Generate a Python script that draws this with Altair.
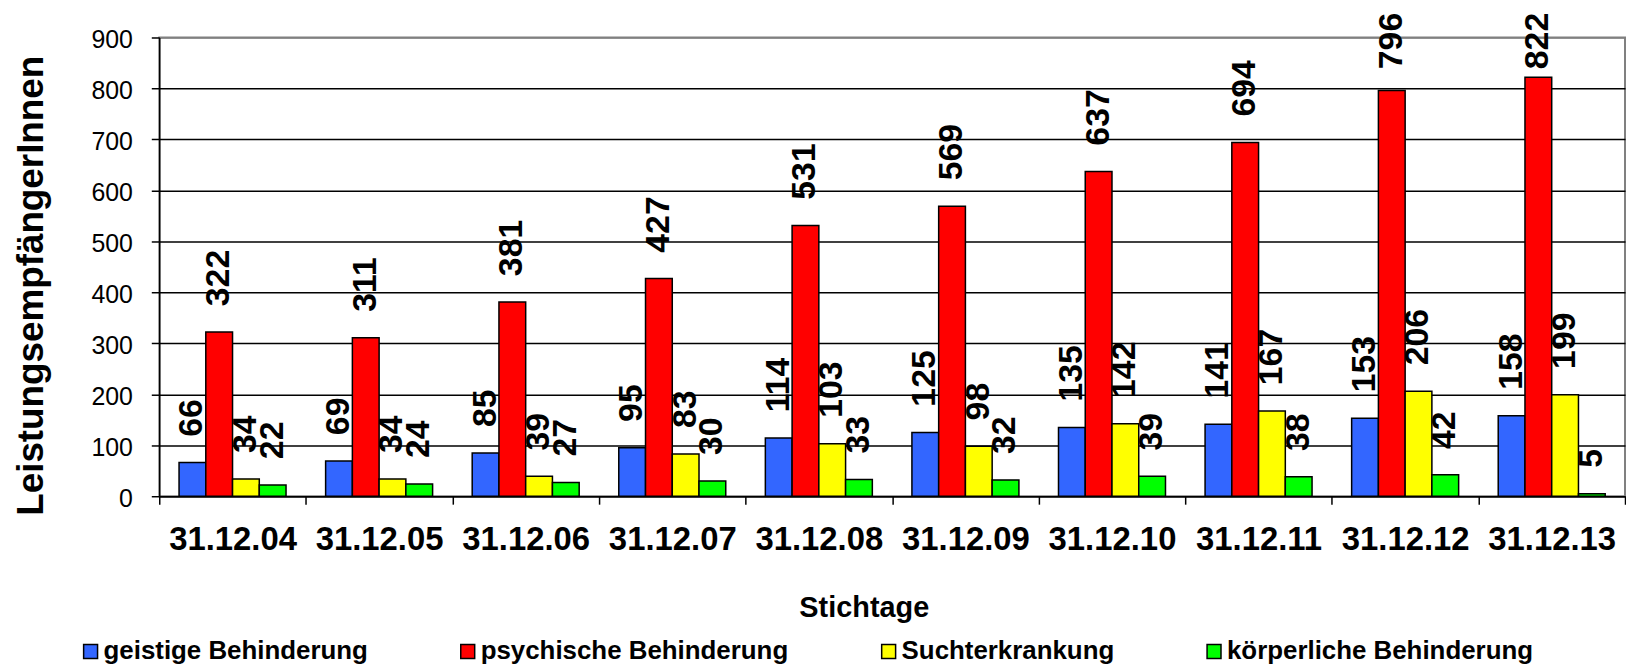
import altair as alt
import pandas as pd

stichtage = ["31.12.04", "31.12.05", "31.12.06", "31.12.07", "31.12.08",
             "31.12.09", "31.12.10", "31.12.11", "31.12.12", "31.12.13"]
kategorien = ["geistige Behinderung", "psychische Behinderung",
              "Suchterkrankung", "körperliche Behinderung"]
geistige = [66, 69, 85, 95, 114, 125, 135, 141, 153, 158]
psychische = [322, 311, 381, 427, 531, 569, 637, 694, 796, 822]
sucht = [34, 34, 39, 83, 103, 98, 142, 167, 206, 199]
koerperlich = [22, 24, 27, 30, 33, 32, 39, 38, 42, 5]
farben = ["#3366FF", "#FF0000", "#FFFF00", "#00FF00"]
y_ticks = [0, 100, 200, 300, 400, 500, 600, 700, 800, 900]

rows = []
for kat, werte in zip(kategorien, [geistige, psychische, sucht, koerperlich]):
    for d, v in zip(stichtage, werte):
        rows.append({"Stichtag": d, "Kategorie": kat, "Wert": v})
df = pd.DataFrame(rows)

FONT = "Liberation Sans"
Y_TITLE = "LeistungsempfängerInnen"

x_enc = alt.X(
    "Stichtag:N", sort=stichtage,
    scale=alt.Scale(paddingInner=0, paddingOuter=0),
    axis=alt.Axis(
        title="Stichtage", labelAngle=0, labelFont=FONT, labelFontSize=33,
        labelFontWeight="bold", labelColor="black", labelPadding=20,
        tickBand="extent", tickSize=8, tickColor="black", tickWidth=1.5,
        domainColor="black", domainWidth=1.5, grid=False,
        titleFont=FONT, titleFontSize=29, titleFontWeight="bold",
        titleColor="black", titleX=708, titleY=121, titleAlign="center",
        titleBaseline="alphabetic",
    ),
)
xoff_enc = alt.XOffset("Kategorie:N", sort=kategorien,
                       scale=alt.Scale(paddingInner=0, paddingOuter=0.74))

y_axis = alt.Axis(
    values=y_ticks, title=Y_TITLE, titleFont=FONT, titleFontSize=37,
    titleFontWeight="bold", titleColor="black", titleAngle=270,
    titleX=-117, titleY=249, titleAlign="center", titleBaseline="alphabetic",
    labelFont=FONT, labelFontSize=25, labelColor="black", labelPadding=19,
    labelOffset=2,
    tickSize=8, tickColor="black", tickWidth=1.5,
    domainColor="black", domainWidth=1.5,
    grid=True, gridWidth=1.5, gridOpacity=1,
    gridColor={"condition": {"test": "datum.value === 900", "value": "#808080"},
               "value": "black"},
)

bars = alt.Chart(df).mark_bar(stroke="black", strokeWidth=1.5).encode(
    x=x_enc,
    xOffset=xoff_enc,
    y=alt.Y("Wert:Q", scale=alt.Scale(domain=[0, 900], nice=False), axis=y_axis),
    color=alt.Color(
        "Kategorie:N",
        scale=alt.Scale(domain=kategorien, range=farben),
        legend=alt.Legend(
            title=None, orient="none", legendX=-82, legendY=604,
            direction="horizontal", columns=4, columnPadding=87,
            symbolType="square", symbolSize=196, symbolStrokeColor="black",
            symbolStrokeWidth=1.5, symbolOpacity=1,
            labelFont=FONT, labelFontSize=26, labelFontWeight="bold",
            labelColor="black", labelOffset=0, labelLimit=0, padding=0,
        ),
    ),
)

labels = alt.Chart(df).transform_calculate(
    label_y="min(datum.Wert, 787)"
).mark_text(
    angle=270, align="left", baseline="middle", dx=26,
    font=FONT, fontSize=34, fontWeight="bold", color="black",
).encode(
    x=alt.X("Stichtag:N", sort=stichtage),
    xOffset=alt.XOffset("Kategorie:N", sort=kategorien),
    y=alt.Y("label_y:Q", title=Y_TITLE),
    text=alt.Text("Wert:Q"),
)

chart = alt.layer(bars, labels).properties(
    width=1473, height=461,
    autosize=alt.AutoSizeParams(type="none"),
    padding={"left": 152, "top": 28, "right": 1, "bottom": 173},
    background="white",
).configure_view(stroke="#808080", strokeWidth=2)

chart.save("out.html", embed_options={"renderer": "svg", "actions": False})
